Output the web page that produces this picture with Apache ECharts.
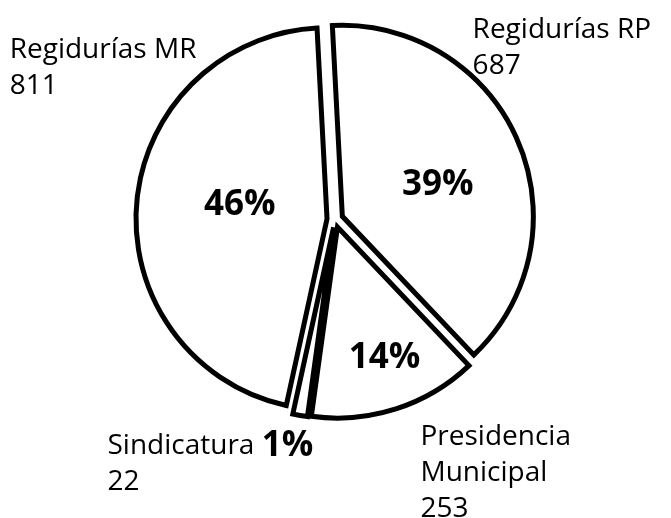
<!DOCTYPE html>
<html lang="es">
<head>
    <meta charset="UTF-8">
    <title>Cargos</title>
    <style>
        html,body{margin:0;padding:0;background:#fff;}
        #chart{width:671px;height:518px;}
    </style>
</head>
<body>
    <div id="chart"></div>
    <script src="https://cdn.jsdelivr.net/npm/echarts@6/dist/echarts.min.js"></script>
    <script>
        let names=['Regidurías RP','Presidencia Municipal','Sindicatura','Regidurías MR'];
        let values=[687,253,22,811];

        let myCharts=echarts.init(document.getElementById('chart'));
        let font='"Open Sans", sans-serif';
        let center=[335,219.5];
        let radius=191;

        // nudges from the pie's own label spots
        let nameShift=[[-94,-87],[-15,50],[-155,34],[-77,-134]];
        let pctShift=[[5,8],[17,37],[0,0],[11,-6]];

        let sliceStyle={color:'#fff',borderColor:'#000',borderWidth:5,borderJoin:'miter'};

        function getData(){
            let data=[];
            names.forEach((name,i)=>{
                data.push({name,value:values[i],selected:true});
            })
            return data;
        }

        let base={
            type:'pie',
            center,
            radius,
            startAngle:93,
            clockwise:true,
            selectedMode:'multiple',
            selectedOffset:8,
            percentPrecision:0,
            avoidLabelOverlap:false,
            animation:false,
            emphasis:{disabled:true},
            labelLine:{show:false},
        };

        let options={
            animation:false,
            series:[
                Object.assign({},base,{
                    name:'pct',
                    itemStyle:sliceStyle,
                    select:{itemStyle:sliceStyle},
                    label:{
                        position:'inside',
                        fontFamily:font,
                        fontWeight:'bold',
                        fontSize:35,
                        color:'#000',
                        formatter:(p)=>p.dataIndex===2 ? '' : p.percent+'%',
                    },
                    labelLayout:(p)=>({dx:pctShift[p.dataIndex][0],dy:pctShift[p.dataIndex][1]}),
                    data:getData(),
                }),
                Object.assign({},base,{
                    name:'names',
                    silent:true,
                    z:3,
                    itemStyle:{color:'rgba(0,0,0,0)',borderWidth:0},
                    select:{itemStyle:{color:'rgba(0,0,0,0)',borderWidth:0}},
                    label:{
                        position:'outside',
                        fontFamily:font,
                        fontSize:28,
                        lineHeight:36,
                        color:'#000',
                        align:'left',
                        formatter:(p)=>{
                            let name=p.dataIndex===1 ? p.name.replace(' ','\n') : p.name;
                            if(p.dataIndex===2) return name+' {b|'+p.percent+'%}\n'+p.value;
                            return name+'\n'+p.value;
                        },
                        rich:{
                            b:{fontFamily:font,fontWeight:'bold',fontSize:35,lineHeight:36,color:'#000'},
                        },
                    },
                    labelLayout:(p)=>({
                        dx:nameShift[p.dataIndex][0],
                        dy:nameShift[p.dataIndex][1],
                        align:'left',
                    }),
                    data:getData(),
                }),
            ],
        };
        myCharts.setOption(options);
    </script>
</body>
</html>
